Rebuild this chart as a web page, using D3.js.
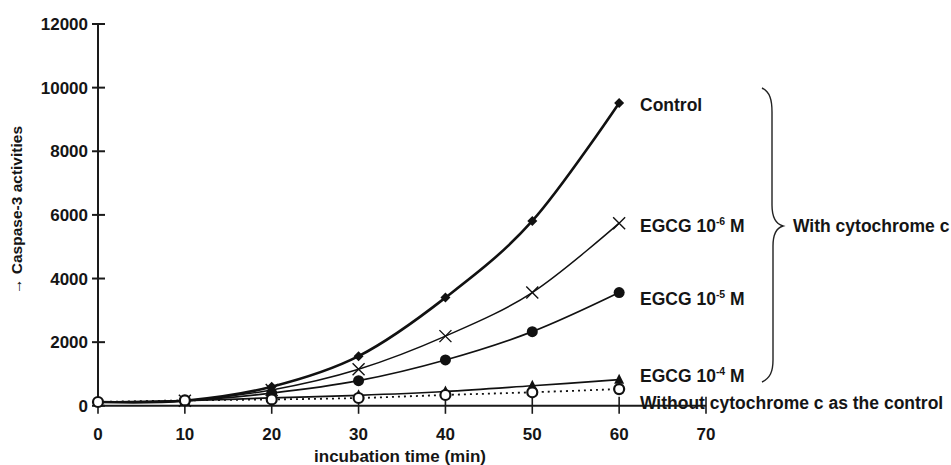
<!DOCTYPE html>
<html>
<head>
<meta charset="utf-8">
<script src="https://cdn.jsdelivr.net/npm/d3@7"></script>
<style>
  body { margin: 0; background: #fff; }
  svg text { font-family: "Liberation Sans", Arial, sans-serif; font-weight: bold; fill: #151515; }
</style>
</head>
<body>
<svg id="chart"></svg>
<script>
const times = [0, 10, 20, 30, 40, 50, 60];
const control = [120, 160, 600, 1560, 3400, 5810, 9520];
const egcg6 = [120, 160, 500, 1150, 2190, 3560, 5740];
const egcg5 = [120, 160, 400, 790, 1440, 2330, 3560];
const egcg4 = [120, 160, 250, 330, 450, 630, 820];
const withoutCyt = [120, 170, 200, 245, 340, 425, 525];

const xTicks = [0, 10, 20, 30, 40, 50, 60, 70];
const yTicks = [0, 2000, 4000, 6000, 8000, 10000, 12000];

const width = 951, height = 465;
const svg = d3.select("#chart").attr("width", width).attr("height", height);

const x = d3.scaleLinear().domain([0, 70]).range([98, 706]);
const y = d3.scaleLinear().domain([0, 12000]).range([405.8, 24]);

// series: marker type, line style, label offset from last point
const series = [
  { values: control, marker: "diamond", width: 2.6, dash: null, label: ["Control"], dy: 3 },
  { values: egcg6, marker: "cross", width: 1.5, dash: null, label: ["EGCG 10", "-6", " M"], dy: 4 },
  { values: egcg5, marker: "dot", width: 1.7, dash: null, label: ["EGCG 10", "-5", " M"], dy: 7 },
  { values: egcg4, marker: "triangle", width: 1.7, dash: null, label: ["EGCG 10", "-4", " M"], dy: -3 },
  { values: withoutCyt, marker: "open", width: 1.8, dash: "2,4", label: ["Without cytochrome c as the control"], dy: 15 },
];

// axes
const axisColor = "#1a1a1a";
svg.append("line")
  .attr("x1", x(0)).attr("x2", x(0)).attr("y1", y(12000)).attr("y2", y(0))
  .attr("stroke", axisColor).attr("stroke-width", 2);
svg.append("line")
  .attr("x1", x(0)).attr("x2", x(70)).attr("y1", y(0)).attr("y2", y(0))
  .attr("stroke", axisColor).attr("stroke-width", 2);

svg.selectAll(".ytick").data(yTicks).join("line")
  .attr("x1", x(0) - 6).attr("x2", x(0) + 7)
  .attr("y1", d => y(d)).attr("y2", d => y(d))
  .attr("stroke", axisColor).attr("stroke-width", 2);
svg.selectAll(".ylabel").data(yTicks).join("text")
  .attr("x", 88).attr("y", d => y(d) + 6)
  .attr("text-anchor", "end").attr("font-size", 17)
  .text(d => d);

svg.selectAll(".xtick").data(xTicks).join("line")
  .attr("x1", d => x(d)).attr("x2", d => x(d))
  .attr("y1", y(0) - 9).attr("y2", y(0) + 8)
  .attr("stroke", axisColor).attr("stroke-width", 1.6);
svg.selectAll(".xlabel").data(xTicks).join("text")
  .attr("x", d => x(d)).attr("y", 440)
  .attr("text-anchor", "middle").attr("font-size", 17)
  .text(d => d);

svg.append("text")
  .attr("x", 400).attr("y", 462)
  .attr("text-anchor", "middle").attr("font-size", 17)
  .text("incubation time (min)");

svg.append("text")
  .attr("transform", "translate(22,210) rotate(-90)")
  .attr("text-anchor", "middle").attr("font-size", 15.5)
  .text("\u2192 Caspase-3 activities");

// lines
const line = d3.line()
  .x((d, i) => x(times[i]))
  .y(d => y(d))
  .curve(d3.curveCardinal.tension(0));

series.forEach(s => {
  svg.append("path")
    .attr("d", line(s.values))
    .attr("fill", "none")
    .attr("stroke", "#111")
    .attr("stroke-width", s.width)
    .attr("stroke-dasharray", s.dash);
});

// markers
function drawMarker(g, type, cx, cy) {
  if (type === "diamond") {
    g.append("path")
      .attr("d", `M${cx},${cy - 5}L${cx + 5},${cy}L${cx},${cy + 5}L${cx - 5},${cy}Z`)
      .attr("fill", "#111");
  } else if (type === "cross") {
    g.append("path")
      .attr("d", `M${cx - 6},${cy - 6}L${cx + 6},${cy + 6}M${cx - 6},${cy + 6}L${cx + 6},${cy - 6}`)
      .attr("stroke", "#111").attr("stroke-width", 1.4);
  } else if (type === "dot") {
    g.append("circle").attr("cx", cx).attr("cy", cy).attr("r", 5.5).attr("fill", "#111");
  } else if (type === "triangle") {
    g.append("path")
      .attr("d", `M${cx},${cy - 6}L${cx + 5},${cy + 4}L${cx - 5},${cy + 4}Z`)
      .attr("fill", "#111");
  } else if (type === "open") {
    g.append("circle").attr("cx", cx).attr("cy", cy).attr("r", 5)
      .attr("fill", "#fff").attr("stroke", "#111").attr("stroke-width", 2.2);
  }
}

const markers = svg.append("g");
series.forEach(s => {
  s.values.forEach((v, i) => {
    if (i === 0 && s.marker !== "open") return;
    drawMarker(markers, s.marker, x(times[i]), y(v));
  });
});

// end labels
series.forEach(s => {
  const last = s.values[s.values.length - 1];
  const t = svg.append("text")
    .attr("x", 640).attr("y", y(last) + s.dy + 5)
    .attr("font-size", 17.5);
  t.append("tspan").text(s.label[0]);
  if (s.label.length > 1) {
    t.append("tspan").attr("font-size", 10.5).attr("dy", -7).text(s.label[1]);
    t.append("tspan").attr("dy", 7).text(s.label[2]);
  }
});

// brace grouping the cytochrome series
svg.append("path")
  .attr("d", "M762,88 C770,92 772,100 772,112 L772,205 C772,218 776,224 783,226 C776,228 773,234 773,246 L773,360 C773,372 770,378 762,382")
  .attr("fill", "none").attr("stroke", "#222").attr("stroke-width", 1.4);

svg.append("text")
  .attr("x", 793).attr("y", 232)
  .attr("font-size", 17.5)
  .text("With cytochrome c");
</script>
</body>
</html>
